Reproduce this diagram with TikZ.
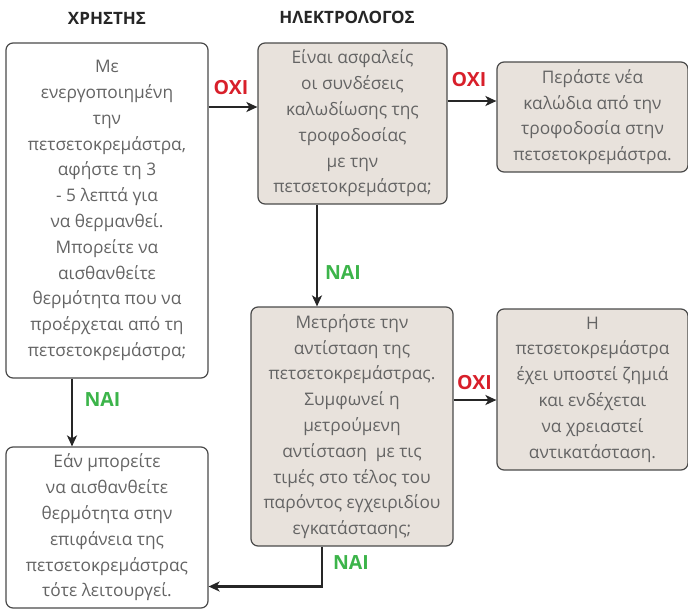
\documentclass[tikz,border=0pt]{standalone}
\usepackage{fontspec}
\setmainfont{Open Sans}
\usepackage{tikz}
\definecolor{boxBeige}{HTML}{E8E2DC}
\definecolor{boxLine}{HTML}{4A4A4A}
\definecolor{textGray}{HTML}{646464}
\definecolor{noRed}{HTML}{D81F2A}
\definecolor{yesGreen}{HTML}{3CB44A}
\colorlet{arrowDark}{black!85}
\usetikzlibrary{arrows.meta}
\usetikzlibrary{calc}

\tikzset{
  stepbox/.style={draw=boxLine, line width=1.2pt, rounded corners=7pt, inner sep=0pt,
    align=center, text=textGray, font=\fontsize{17.3}{25.8}\selectfont},
  userbox/.style={stepbox, fill=white},
  elecbox/.style={stepbox, fill=boxBeige},
  flow/.style={draw=arrowDark, line width=2.2pt, -{Stealth[length=11pt,width=10pt,inset=3pt]}},
  nolabel/.style={text=noRed, font=\fontsize{19.5}{20}\selectfont\bfseries},
  yeslabel/.style={text=yesGreen, font=\fontsize{19.5}{20}\selectfont\bfseries},
  header/.style={text=black!85, font=\fontsize{17}{18}\selectfont\bfseries}
}

\begin{document}
\begin{tikzpicture}[x=1pt, y=-1pt]
  \useasboundingbox (0,0) rectangle (688,611);

  % column headers
  \node[header] (userhead) at (107,18) {ΧΡΗΣΤΗΣ};
  \node[header] (elechead) at (347,17) {ΗΛΕΚΤΡΟΛΟΓΟΣ};

  % user column
  \node[userbox, minimum width=202pt, minimum height=335pt] (heatcheck) at (107,210.5)
    {Με\\ενεργοποιημένη\\την\\πετσετοκρεμάστρα,\\αφήστε τη 3\\- 5 λεπτά για\\να θερμανθεί.\\Μπορείτε να\\αισθανθείτε\\θερμότητα που να\\προέρχεται από τη\\πετσετοκρεμάστρα;};
  \node[userbox, minimum width=202pt, minimum height=161pt] (works) at (107,527.5)
    {Εάν μπορείτε\\να αισθανθείτε\\θερμότητα στην\\επιφάνεια της\\πετσετοκρεμάστρας\\τότε λειτουργεί.};

  % electrician column
  \node[elecbox, minimum width=189pt, minimum height=161pt] (wiring) at (352.5,123.5)
    {Είναι ασφαλείς\\οι συνδέσεις\\καλωδίωσης της\\τροφοδοσίας\\με την\\πετσετοκρεμάστρα;};
  \node[elecbox, minimum width=202pt, minimum height=239pt] (resist) at (352,426.5)
    {Μετρήστε την\\αντίσταση της\\πετσετοκρεμάστρας.\\Συμφωνεί η\\μετρούμενη\\αντίσταση \ με τις\\τιμές στο τέλος του\\παρόντος εγχειριδίου\\εγκατάστασης;};

  % right column
  \node[elecbox, minimum width=191pt, minimum height=110pt] (newcable) at (592.5,117)
    {Περάστε νέα\\καλώδια από την\\τροφοδοσία στην\\πετσετοκρεμάστρα.};
  \node[elecbox, minimum width=191pt, minimum height=161pt] (damaged) at (592.5,389.5)
    {Η\\πετσετοκρεμάστρα\\έχει υποστεί ζημιά\\και ενδέχεται\\να χρειαστεί\\αντικατάσταση.};

  % connectors
  \draw[flow] (heatcheck.east |- 0,107) -- (wiring.west |- 0,107);
  \draw[flow] (wiring.east |- 0,101) -- (newcable.west |- 0,101);
  \draw[flow] (wiring.south -| 317,0) -- (resist.north -| 317,0);
  \draw[flow] (resist.east |- 0,400) -- (damaged.west |- 0,400);
  \draw[flow] (heatcheck.south -| 72,0) -- (works.north -| 72,0);
  \draw[flow] (resist.south -| 322,0) |- (works.east |- 0,586.5);

  \node[nolabel] (no1) at (231,88) {ΟΧΙ};
  \node[nolabel] (no2) at (469,80) {ΟΧΙ};
  \node[nolabel] (no3) at (474.5,383) {ΟΧΙ};
  \node[yeslabel] (yes1) at (343,273) {ΝΑΙ};
  \node[yeslabel] (yes2) at (351,563) {ΝΑΙ};
  \node[yeslabel] (yes3) at (102.5,400) {ΝΑΙ};
\end{tikzpicture}
\end{document}
